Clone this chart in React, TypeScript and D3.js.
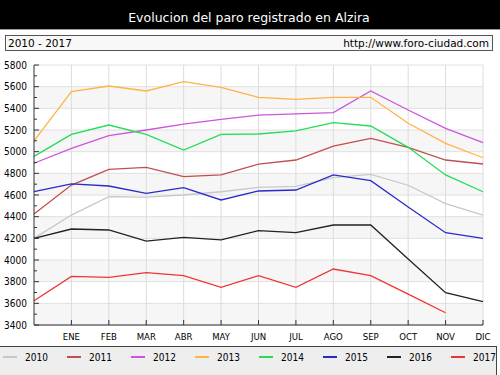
import React from "react";
import * as d3 from "d3";

const months = ["", "ENE", "FEB", "MAR", "ABR", "MAY", "JUN", "JUL", "AGO", "SEP", "OCT", "NOV", "DIC"];
const years = ["2010", "2011", "2012", "2013", "2014", "2015", "2016", "2017"];
const colors = ["#c8c8c8", "#c05050", "#cc55dd", "#ffb347", "#22dd55", "#2a2acc", "#222222", "#ee3535"];

const s2010 = [4200, 4415, 4585, 4580, 4600, 4630, 4670, 4680, 4760, 4790, 4690, 4520, 4415];
const s2011 = [4425, 4692, 4837, 4855, 4769, 4785, 4886, 4923, 5052, 5123, 5040, 4923, 4886];
const s2012 = [4893, 5030, 5148, 5200, 5255, 5299, 5338, 5348, 5360, 5560, 5385, 5215, 5083];
const s2013 = [5100, 5554, 5606, 5560, 5646, 5594, 5502, 5483, 5502, 5502, 5262, 5077, 4944];
const s2014 = [4956, 5160, 5246, 5160, 5015, 5160, 5163, 5191, 5268, 5237, 5040, 4785, 4630];
const s2015 = [4631, 4702, 4683, 4615, 4668, 4554, 4637, 4646, 4785, 4732, 4490, 4252, 4200];
const s2016 = [4200, 4286, 4277, 4175, 4209, 4185, 4271, 4252, 4323, 4323, 4010, 3698, 3615];
const s2017 = [3624, 3849, 3840, 3883, 3855, 3748, 3855, 3748, 3917, 3855, 3685, 3513];

const series = [s2010, s2011, s2012, s2013, s2014, s2015, s2016, s2017];
const yTicks = [3400, 3600, 3800, 4000, 4200, 4400, 4600, 4800, 5000, 5200, 5400, 5600, 5800];

const W = 500, H = 375;
const L = 34, R = 483, T = 65, B = 325;
const font = "DejaVu Sans, sans-serif";
const condensed = "'DejaVu Sans Condensed', 'DejaVu Sans', sans-serif";

export default function App() {
  const x = d3.scaleLinear().domain([0, 12]).range([L, R]);
  const y = d3.scaleLinear().domain([3400, 5800]).range([B, T]);
  const line = d3.line<number>().x((_, i) => x(i)).y((d) => y(d));
  const bands = d3.range(3400, 5800, 200);
  const minor = d3.range(3400, 5801, 100);

  return (
    <svg width={W} height={H} style={{ position: "absolute", left: 0, top: 0 }} fontFamily={font}>
      <rect x={0} y={0} width={W} height={H} fill="#ffffff" />
      <rect x={0} y={0} width={W} height={29} fill="#000000" />
      <line x1={0} x2={W} y1={29.5} y2={29.5} stroke="#999" />
      <text x={249} y={22} fill="#ffffff" fontSize={12.5} textAnchor="middle">Evolucion del paro registrado en Alzira</text>
      <rect x={5.5} y={35.5} width={487} height={15} fill="#f8f8f8" stroke="#555" />
      <text x={8} y={47} fontSize={10.5} fill="#000">2010 - 2017</text>
      <text x={489} y={47} fontSize={10.5} fill="#000" textAnchor="end">http://www.foro-ciudad.com</text>

      {bands.map((b, i) => (
        <rect key={b} x={L} width={R - L} y={y(b + 200)} height={y(b) - y(b + 200)} fill={i % 2 === 0 ? "#f6f6f6" : "#ffffff"} />
      ))}
      {yTicks.map((t) => (
        <line key={t} x1={L} x2={R} y1={y(t)} y2={y(t)} stroke="#e0e0e0" />
      ))}
      {months.map((m, i) => i > 0 ? (
        <line key={i} x1={x(i)} x2={x(i)} y1={T} y2={B} stroke="#dcdcdc" />
      ) : null)}

      {series.map((s, k) => (
        <path key={k} d={line(s) || ""} fill="none" stroke={colors[k]} strokeWidth={1.3} />
      ))}

      <line x1={L} x2={L} y1={T} y2={B} stroke="#333" />
      <line x1={L} x2={R} y1={B} y2={B} stroke="#333" />
      {minor.map((t) => (
        <line key={t} x1={L} x2={L + (t % 200 === 0 ? 5 : 3)} y1={y(t)} y2={y(t)} stroke="#333" />
      ))}
      {yTicks.map((t) => (
        <text key={t} x={27} y={y(t) + 3.5} fontSize={10} fontFamily={condensed} textAnchor="end" fill="#000">{t}</text>
      ))}
      {months.map((m, i) => i > 0 ? (
        <g key={i}>
          <line x1={x(i)} x2={x(i)} y1={B} y2={B - 5} stroke="#333" />
          <text x={x(i)} y={340} fontSize={9.5} fontFamily={condensed} textAnchor="middle" fill="#000">{m}</text>
        </g>
      ) : null)}

      <rect x={-1} y={346.5} width={497.5} height={30} fill="#eeeeee" stroke="#444" />
      {years.map((yr, i) => (
        <g key={yr}>
          <line x1={3 + 64 * i} x2={17 + 64 * i} y1={357} y2={357} stroke={colors[i]} strokeWidth={2} />
          <text x={25 + 64 * i} y={361} fontSize={10} fontFamily={condensed} fill="#000">{yr}</text>
        </g>
      ))}
    </svg>
  );
}
